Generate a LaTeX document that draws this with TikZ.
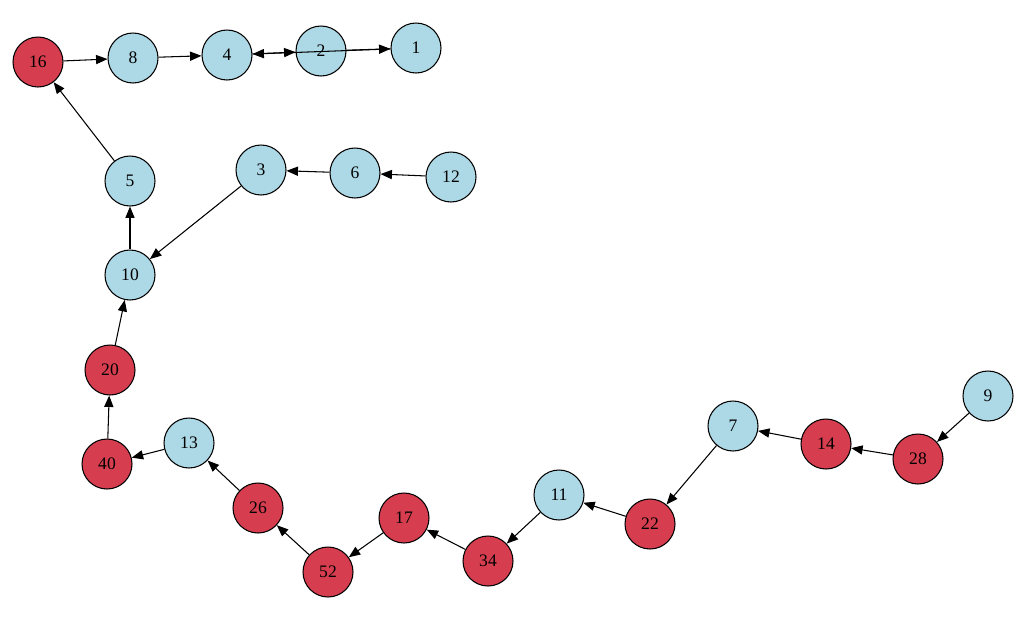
\documentclass[tikz,border=0pt]{standalone}
\usepackage{fontspec}
\setmainfont{Liberation Serif}
\usetikzlibrary{arrows.meta}
\definecolor{evenred}{RGB}{214,62,79}
\definecolor{oddblue}{RGB}{173,216,230}

\begin{document}
\begin{tikzpicture}
[
    x=0.02cm, y=-0.02cm,
    num/.style={circle, draw=black, line width=0.6pt, minimum size=1.0cm, inner sep=0pt, font=\fontsize{10}{12}\selectfont},
    even/.style={num, fill=evenred},
    odd/.style={num, fill=oddblue},
    hop/.style={-{Triangle[length=6.5pt,width=5.2pt]}, line width=0.6pt},
]
\useasboundingbox (0,0) rectangle (1031,633);
% top row
\node [even] (n16) at (38,62) {16};
\node [odd] (n8) at (133,58) {8};
\node [odd] (n4) at (227,55) {4};
\node [odd] (n2) at (321,51) {2};
\node [odd] (n1) at (416,48) {1};
% middle
\node [odd] (n5) at (130,181) {5};
\node [odd] (n3) at (261,170) {3};
\node [odd] (n6) at (355,173) {6};
\node [odd] (n12) at (451,177) {12};
\node [odd] (n10) at (130,275) {10};
\node [even] (n20) at (110,370) {20};
% bottom chain
\node [even] (n40) at (107,464) {40};
\node [odd] (n13) at (189,443) {13};
\node [even] (n26) at (258,508) {26};
\node [even] (n52) at (328,572) {52};
\node [even] (n17) at (404,518) {17};
\node [even] (n34) at (488,561) {34};
\node [odd] (n11) at (559,495) {11};
\node [even] (n22) at (650,524) {22};
\node [odd] (n7) at (733,426) {7};
\node [even] (n14) at (826,444) {14};
\node [even] (n28) at (918,459) {28};
\node [odd] (n9) at (988,396) {9};
% edges
\draw [hop] (n16) -- (n8);
\draw [hop] (n8) -- (n4);
\draw [hop] (n4) -- (n2);
\draw [hop] (n2) -- (n1);
\draw [hop] (n1) -- (n4);
\draw [hop] (n5) -- (n16);
\draw [hop] (n10) -- (n5);
\draw [hop] (n3) -- (n10);
\draw [hop] (n6) -- (n3);
\draw [hop] (n12) -- (n6);
\draw [hop] (n20) -- (n10);
\draw [hop] (n40) -- (n20);
\draw [hop] (n13) -- (n40);
\draw [hop] (n26) -- (n13);
\draw [hop] (n52) -- (n26);
\draw [hop] (n17) -- (n52);
\draw [hop] (n34) -- (n17);
\draw [hop] (n11) -- (n34);
\draw [hop] (n22) -- (n11);
\draw [hop] (n7) -- (n22);
\draw [hop] (n14) -- (n7);
\draw [hop] (n28) -- (n14);
\draw [hop] (n9) -- (n28);
\end{tikzpicture}
\end{document}
